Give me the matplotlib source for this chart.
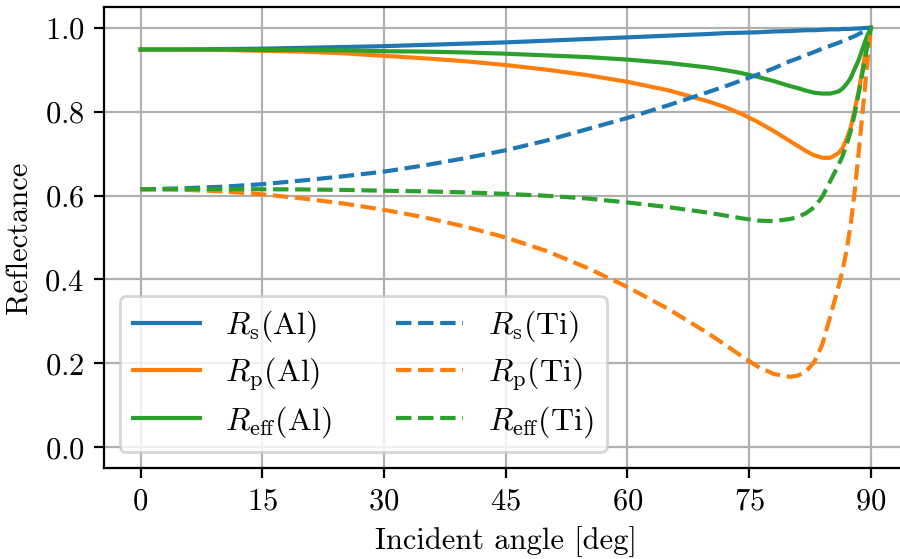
import matplotlib
matplotlib.use("Agg")
import matplotlib.pyplot as plt

plt.rcParams['font.family'] = 'serif'
plt.rcParams['font.serif'] = ['cmr10']
plt.rcParams['mathtext.fontset'] = 'cm'
plt.rcParams['axes.formatter.use_mathtext'] = True
plt.rcParams['font.size'] = 11

# Incident angles [deg] and reflectances
angles = [0, 5, 10, 15, 20, 25, 30, 35, 40, 45, 50, 55, 60, 65, 70, 72, 74, 76, 78,
          80, 81, 82, 83, 84, 85, 86, 86.5, 87, 87.5, 88, 88.5, 89, 89.5, 90]

rs_al = [0.948, 0.948, 0.949, 0.950, 0.952, 0.954, 0.956, 0.959, 0.962, 0.965, 0.969,
         0.973, 0.977, 0.981, 0.985, 0.987, 0.988, 0.989, 0.991, 0.992, 0.993, 0.994,
         0.994, 0.995, 0.996, 0.996, 0.997, 0.997, 0.997, 0.998, 0.998, 0.999, 0.9995, 1.0]
rp_al = [0.948, 0.948, 0.947, 0.945, 0.943, 0.939, 0.933, 0.927, 0.920, 0.911, 0.900,
         0.887, 0.871, 0.851, 0.824, 0.811, 0.795, 0.776, 0.754, 0.730, 0.718, 0.706,
         0.696, 0.690, 0.690, 0.701, 0.713, 0.735, 0.762, 0.805, 0.850, 0.905, 0.958, 1.0]
reff_al = [0.948, 0.948, 0.948, 0.947, 0.947, 0.946, 0.944, 0.943, 0.941, 0.938, 0.934,
           0.930, 0.924, 0.916, 0.905, 0.899, 0.892, 0.883, 0.873, 0.861, 0.856, 0.850,
           0.845, 0.843, 0.843, 0.848, 0.855, 0.866, 0.880, 0.902, 0.924, 0.952, 0.979, 1.0]

rs_ti = [0.615, 0.617, 0.621, 0.627, 0.636, 0.646, 0.657, 0.672, 0.689, 0.708, 0.731,
         0.758, 0.785, 0.815, 0.847, 0.860, 0.874, 0.888, 0.903, 0.920, 0.927, 0.935,
         0.942, 0.950, 0.957, 0.964, 0.968, 0.972, 0.976, 0.980, 0.985, 0.990, 0.995, 1.0]
rp_ti = [0.615, 0.614, 0.610, 0.603, 0.593, 0.581, 0.566, 0.548, 0.526, 0.500, 0.468,
         0.428, 0.382, 0.330, 0.271, 0.245, 0.218, 0.193, 0.175, 0.168, 0.171, 0.181,
         0.203, 0.245, 0.313, 0.383, 0.421, 0.470, 0.530, 0.610, 0.705, 0.805, 0.905, 1.0]
reff_ti = [0.615, 0.6155, 0.6155, 0.615, 0.6145, 0.6135, 0.6115, 0.610, 0.6075, 0.604,
           0.5995, 0.593, 0.5835, 0.5725, 0.559, 0.5525, 0.546, 0.5405, 0.539, 0.544,
           0.549, 0.558, 0.572, 0.597, 0.635, 0.673, 0.694, 0.721, 0.753, 0.795, 0.845,
           0.8975, 0.950, 1.0]

fig = plt.figure(figsize=(4.5, 2.795), dpi=200)
ax = fig.add_axes([0.1156, 0.1622, 0.8927, 0.8258])

ax.plot(angles, rs_al, color='C0', label=r'$R_\mathrm{s}$(Al)')
ax.plot(angles, rp_al, color='C1', label=r'$R_\mathrm{p}$(Al)')
ax.plot(angles, reff_al, color='C2', label=r'$R_\mathrm{eff}$(Al)')
ax.plot(angles, rs_ti, '--', color='C0', label=r'$R_\mathrm{s}$(Ti)')
ax.plot(angles, rp_ti, '--', color='C1', label=r'$R_\mathrm{p}$(Ti)')
ax.plot(angles, reff_ti, '--', color='C2', label=r'$R_\mathrm{eff}$(Ti)')

ax.set_xticks([0, 15, 30, 45, 60, 75, 90])
ax.set_yticks([0.0, 0.2, 0.4, 0.6, 0.8, 1.0])
ax.set_ylim(-0.05, 1.05)
ax.grid(True)
ax.set_xlabel('Incident angle [deg]')
ax.set_ylabel('Reflectance')
ax.legend(loc='lower left', ncol=2, fontsize=11.5, labelspacing=0.35,
          handlelength=2.1)

fig.savefig('out.png', dpi=200)
